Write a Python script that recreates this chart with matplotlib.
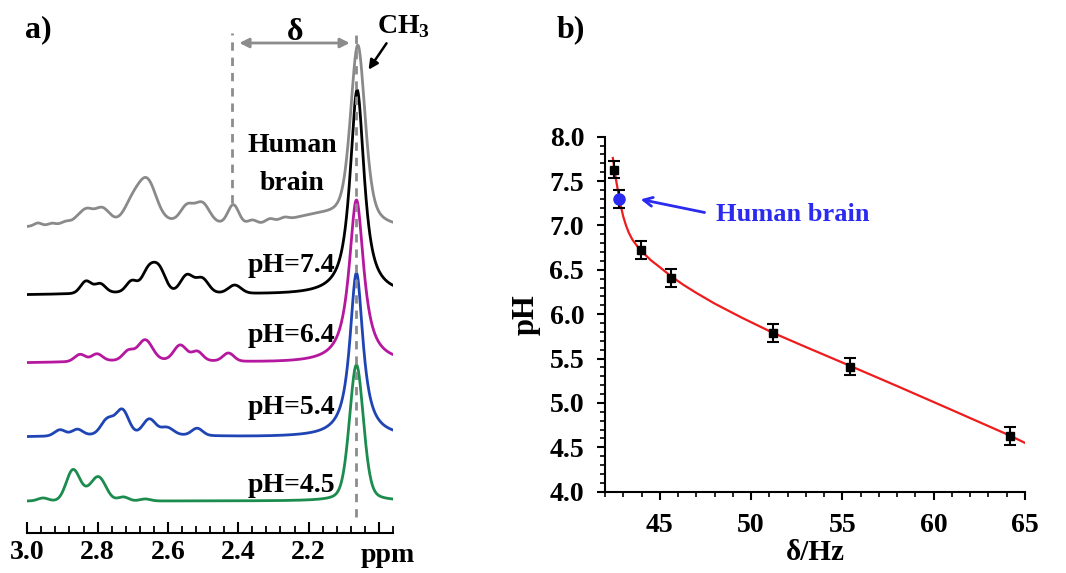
import numpy as np
import matplotlib
matplotlib.use("Agg")
import matplotlib.pyplot as plt
from matplotlib.ticker import MultipleLocator, FixedLocator, FormatStrFormatter

plt.rcParams['font.family'] = ['Liberation Serif', 'DejaVu Serif']
plt.rcParams['font.weight'] = 'bold'
plt.rcParams['axes.labelweight'] = 'bold'
plt.rcParams['mathtext.fontset'] = 'custom'
plt.rcParams['mathtext.rm'] = 'Liberation Serif:bold'
plt.rcParams['mathtext.bf'] = 'Liberation Serif:bold'

# ---- panel a: spectra (peak tables) ----
# each peak: (ppm, height, fwhm); heights in arbitrary units above baseline
ppm_start, ppm_end = 3.0, 1.955

gray_base = 305
gray_main = (2.060, 178, 0.05, 0.5)
gray_peaks = [(2.97, 3, 0.025), (2.93, 2, 0.025), (2.89, 3, 0.03), (2.86, 3, 0.03),
              (2.833, 13, 0.042), (2.788, 14, 0.048), (2.703, 16, 0.05),
              (2.66, 40, 0.06), (2.546, 15, 0.042), (2.503, 19, 0.048),
              (2.414, 19, 0.036), (2.36, 4, 0.03), (2.31, 4, 0.03),
              (2.27, 3, 0.03), (2.65, 8, 0.45), (2.17, 11, 0.2)]

black_base = 238
black_main = (2.062, 205, 0.048, 0.9)
black_peaks = [(2.833, 12, 0.036), (2.793, 9, 0.036), (2.703, 11, 0.036),
               (2.656, 21, 0.042), (2.625, 22, 0.042), (2.546, 17, 0.042),
               (2.503, 14, 0.042), (2.41, 8, 0.042), (2.65, 3, 0.4)]

magenta_base = 170
magenta_main = (2.064, 163, 0.05, 0.95)
magenta_peaks = [(2.85, 7, 0.036), (2.802, 7, 0.036), (2.713, 9, 0.036),
                 (2.665, 20, 0.048), (2.565, 15, 0.042), (2.517, 9, 0.036),
                 (2.428, 8, 0.036), (2.65, 3, 0.4)]

blue_base = 96
blue_main = (2.064, 164, 0.045, 0.95)
blue_peaks = [(2.907, 6, 0.036), (2.858, 6, 0.036), (2.772, 15, 0.042),
              (2.73, 24, 0.042), (2.653, 15, 0.042), (2.603, 7, 0.042),
              (2.517, 7, 0.036), (2.7, 3, 0.35)]

green_base = 32
green_main = (2.064, 136, 0.047, 0.3)
green_peaks = [(2.955, 3, 0.035), (2.87, 31, 0.045), (2.835, 4, 0.04),
               (2.798, 24, 0.05), (2.727, 4, 0.035), (2.665, 2, 0.035)]

spectra = [
    ("gray", "#8a8a8a", gray_base, gray_main, gray_peaks),
    ("black", "#000000", black_base, black_main, black_peaks),
    ("magenta", "#b5179e", magenta_base, magenta_main, magenta_peaks),
    ("blue", "#1f45b5", blue_base, blue_main, blue_peaks),
    ("green", "#1b8c4e", green_base, green_main, green_peaks),
]

ph_labels = ["pH=7.4", "pH=6.4", "pH=5.4", "pH=4.5"]
ph_label_y = [267, 198, 125, 48]

# ---- panel b: calibration ----
delta_hz = [42.51, 43.98, 45.61, 51.21, 55.42, 64.2]
ph_vals = [7.63, 6.72, 6.41, 5.79, 5.41, 4.63]
ph_err = [0.1, 0.1, 0.1, 0.1, 0.1, 0.1]
brain_delta = 42.75
brain_ph = 7.30
brain_err = 0.1
# red fit line
fit_x = [42.43, 42.5, 42.6, 42.7, 42.8, 42.9, 43.0, 43.15, 43.3, 43.5,
         43.75, 44.0, 44.5, 45.0, 45.6, 46.3, 47.0, 48.0, 49.5, 51.2,
         53.0, 55.4, 58.0, 61.0, 64.2, 65.0]
fit_y = [7.76, 7.66, 7.52, 7.40, 7.29, 7.19, 7.10, 7.00, 6.92, 6.84,
         6.77, 6.71, 6.61, 6.53, 6.43, 6.33, 6.24, 6.12, 5.96, 5.79,
         5.63, 5.42, 5.19, 4.92, 4.63, 4.55]


def peak_shape(x, c, h, w, eta=0.0):
    lor = 1.0 / (1.0 + ((x - c) / (w / 2.0)) ** 2)
    gau = np.exp(-4 * np.log(2) * ((x - c) / w) ** 2)
    return h * (eta * lor + (1 - eta) * gau)


fig = plt.figure(figsize=(10.66, 5.73), dpi=100)

# left panel: y data = 533 - pixel row
ax1 = fig.add_axes([27.3 / 1066, 40 / 573, 365.7 / 1066, 523 / 573])
ax1.set_xlim(3.0, 1.96)
ax1.set_ylim(0, 523)
x = np.linspace(ppm_start, ppm_end, 1500)
for name, col, base, main, peaks in spectra:
    y = base + peak_shape(x, *main)
    for c, h, w in peaks:
        y = y + peak_shape(x, c, h, w)
    ax1.plot(x, y, color=col, lw=2.0, zorder=3)

for lab, yy in zip(ph_labels, ph_label_y):
    ax1.text(2.125, yy, lab, ha='right', va='center', fontsize=20, zorder=5)
ax1.text(2.247, 388, "Human", ha='center', va='center', fontsize=20)
ax1.text(2.247, 350, "brain", ha='center', va='center', fontsize=20)

# dashed guides and delta arrow
ax1.plot([2.417, 2.417], [330, 500], ls=(0, (3, 2.5)), color='#8c8c8c', lw=2, zorder=2)
ax1.plot([2.064, 2.064], [16, 500], ls=(0, (3, 2.5)), color='#8c8c8c', lw=2, zorder=4)
ax1.annotate('', xy=(2.075, 490), xytext=(2.405, 490),
             arrowprops=dict(arrowstyle='<|-|>', color='#8c8c8c', lw=2, mutation_scale=14))
ax1.text(2.239, 500, "δ", ha='center', va='center', fontsize=23)
ax1.text(1.93, 506, r"CH$_3$", ha='center', va='center', fontsize=20, clip_on=False)
ax1.annotate('', xy=(2.034, 461), xytext=(1.974, 492),
             arrowprops=dict(arrowstyle='-|>', color='black', lw=1.8, mutation_scale=14),
             annotation_clip=False)

for s in ['top', 'right', 'left']:
    ax1.spines[s].set_visible(False)
ax1.spines['bottom'].set_linewidth(1.5)
ax1.set_yticks([])
ax1.xaxis.set_major_locator(FixedLocator([3.0, 2.8, 2.6, 2.4, 2.2, 2.0]))
ax1.xaxis.set_minor_locator(MultipleLocator(0.04))
ax1.set_xticklabels(["3.0", "2.8", "2.6", "2.4", "2.2", ""])
ax1.tick_params(axis='x', which='major', direction='in', length=8, width=1.5,
                labelsize=20, pad=5)
ax1.tick_params(axis='x', which='minor', direction='in', length=5, width=1.3)
ax1.text(1.975, -22, "ppm", ha='center', va='center', fontsize=20, clip_on=False)
fig.text(38 / 1066, 1 - 30 / 573, "a)", ha='center', va='center', fontsize=23)

# right panel
ax2 = fig.add_axes([605 / 1066, 81.3 / 573, 420 / 1066, 355 / 573])
ax2.plot(fit_x, fit_y, color='#ee1c1c', lw=1.6, zorder=2)
ax2.errorbar(delta_hz, ph_vals, yerr=ph_err, fmt='s', color='black', ms=6,
             elinewidth=1.5, capsize=4, capthick=1.5, zorder=3)
ax2.errorbar([brain_delta], [brain_ph], yerr=[brain_err], fmt='none', ecolor='black',
             elinewidth=1.5, capsize=4, capthick=1.5, zorder=3)
ax2.plot([brain_delta], [brain_ph], 'o', color='#2a2af0', ms=8, zorder=4)
ax2.annotate('', xy=(43.8, 7.30), xytext=(47.6, 7.14),
             arrowprops=dict(arrowstyle='->', color='#2a2af0', lw=2, mutation_scale=16))
ax2.text(48.1, 7.12, "Human brain", color='#2a2af0', ha='left', va='center', fontsize=19)

ax2.set_xlim(42.0, 65.0)
ax2.set_ylim(4.0, 8.0)
for s in ['top', 'right']:
    ax2.spines[s].set_visible(False)
for s in ['left', 'bottom']:
    ax2.spines[s].set_linewidth(1.5)
ax2.xaxis.set_major_locator(MultipleLocator(5))
ax2.xaxis.set_minor_locator(MultipleLocator(1))
ax2.yaxis.set_major_locator(MultipleLocator(0.5))
ax2.yaxis.set_minor_locator(MultipleLocator(0.1))
ax2.yaxis.set_major_formatter(FormatStrFormatter('%.1f'))
ax2.tick_params(which='major', direction='out', length=6, width=1.5, labelsize=20)
ax2.tick_params(which='minor', direction='out', length=3.5, width=1.2)
ax2.tick_params(axis='y', which='major', pad=9)
ax2.tick_params(axis='x', which='major', pad=9)
ax2.set_xlabel("δ/Hz", fontsize=21, fontweight='bold', labelpad=1)
ax2.set_ylabel("pH", fontsize=22, fontweight='bold', labelpad=6)
fig.text(571 / 1066, 1 - 30 / 573, "b)", ha='center', va='center', fontsize=23)

fig.savefig("out.png", dpi=100)
